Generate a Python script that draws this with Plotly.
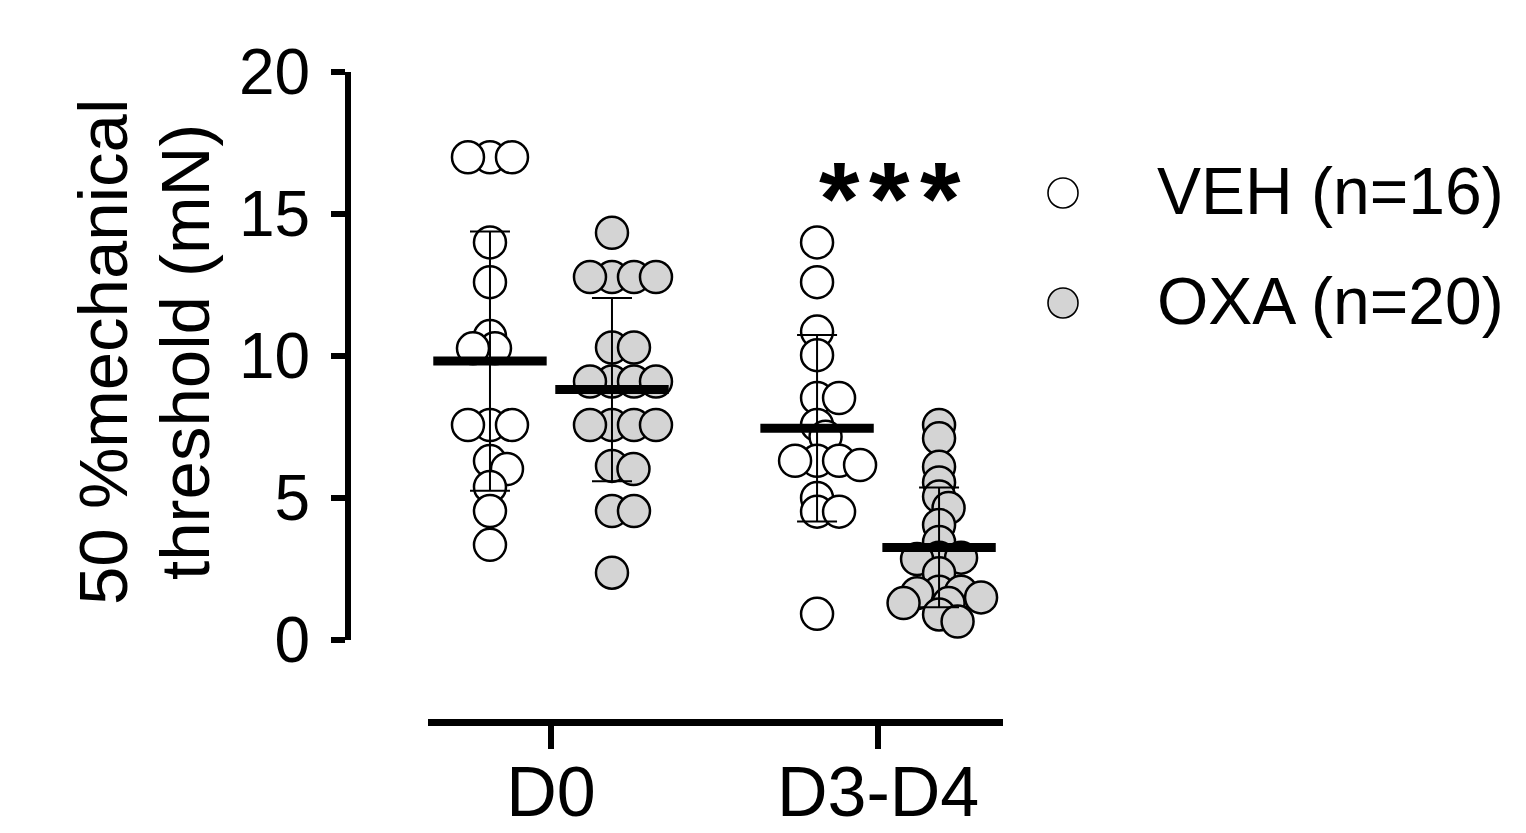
import numpy as np
import plotly.graph_objects as go

# ---------------- data ----------------
timepoints = ["D0", "D3-D4"]
group_names = ["VEH (n=16)", "OXA (n=20)"]

veh_d0 = [17.0, 17.0, 17.0, 14.0, 12.6, 10.7, 10.27, 10.27, 7.57, 7.57, 7.57,
          6.3, 6.02, 5.39, 4.54, 3.35]
oxa_d0 = [14.34, 12.78, 12.78, 12.78, 12.78, 10.3, 10.3, 9.1, 9.1, 9.1, 9.1,
          7.57, 7.57, 7.57, 7.57, 6.13, 6.02, 4.54, 4.54, 2.37]
veh_d34 = [14.0, 12.6, 10.86, 10.03, 8.52, 8.52, 7.57, 7.16, 6.31, 6.31, 6.31,
           6.16, 5.0, 4.52, 4.52, 0.92]
oxa_d34 = [7.57, 7.1, 6.1, 5.55, 5.05, 4.65, 4.05, 3.45, 2.9, 2.9, 2.85, 2.35,
           1.7, 1.7, 1.65, 1.5, 1.3, 1.3, 0.9, 0.65]

y_ticks = [0, 5, 10, 15, 20]
significance = ["*", "*", "*"]

# ---------------- layout constants (page pixels) ----------------
W, H = 1526, 833
OFF = 8                                       # default body margin of the page
PL, PR, PT, PB = 348, 1003, 72, 722          # plot area in page px
X_AXIS_LEFT = 428                             # x-axis line starts here
Y_ZERO_PX = 640                               # pixel row of y = 0
X_RANGE = [-0.376, 1.382]
Y_RANGE = [0, 20]
FONT = "Liberation Sans, Arial, sans-serif"

x_dom = [(X_AXIS_LEFT - PL) / (PR - PL), 1.0]
y_dom = [(PB - Y_ZERO_PX) / (PB - PT), 1.0]
XPX = (PR - X_AXIS_LEFT) / (X_RANGE[1] - X_RANGE[0])   # px per x unit
YPX = (Y_ZERO_PX - PT) / (Y_RANGE[1] - Y_RANGE[0])      # px per y unit

GROUP_SHIFT = 61 / XPX        # VEH left, OXA right of each timepoint
MARKER = 32


def paper_x(px):
    return (px - PL) / (PR - PL)


def paper_y(py):
    return (PB - py) / (PB - PT)


def swarm(vals, dx_px=22.0, dy_px=12.5):
    """Greedy beeswarm: horizontal pixel offsets so markers do not pile up."""
    vals = np.asarray(vals, dtype=float)
    order = np.argsort(-vals, kind="stable")
    placed = []
    offs = np.zeros(len(vals))
    for i in order:
        y = vals[i] * YPX
        found = None
        k = 0
        while found is None:
            cands = [0.0] if k == 0 else [k * 0.5, -k * 0.5]
            for c in cands:
                if all(((c - xo) / dx_px) ** 2 + ((y - yo) / dy_px) ** 2 >= 1
                       for xo, yo in placed):
                    found = c
                    break
            k += 1
        offs[i] = found
        placed.append((found, y))
    return offs


series = [
    (0, -1, veh_d0, "white"),
    (0, +1, oxa_d0, "#d4d4d4"),
    (1, -1, veh_d34, "white"),
    (1, +1, oxa_d34, "#d4d4d4"),
]

fig = go.Figure()

# points
for tp, side, vals, fill in series:
    offs = swarm(vals)
    xs = tp + side * GROUP_SHIFT + offs / XPX
    fig.add_trace(go.Scatter(
        x=xs, y=vals, mode="markers", showlegend=False, cliponaxis=False,
        marker=dict(size=MARKER, color=fill, line=dict(color="black", width=2.5)),
        hoverinfo="y",
    ))

# mean +/- SD
for tp, side, vals, fill in series:
    v = np.asarray(vals)
    fig.add_trace(go.Scatter(
        x=[tp + side * GROUP_SHIFT], y=[v.mean()], mode="markers",
        showlegend=False, cliponaxis=False,
        marker=dict(symbol="line-ew", size=81, color="black",
                    line=dict(color="black", width=9)),
        error_y=dict(type="data", array=[v.std(ddof=1)], symmetric=True,
                     color="black", thickness=2, width=20),
        hoverinfo="y",
    ))

annotations = []
shapes = []

# significance stars (one annotation per star for exact spacing)
for j, s in enumerate(significance):
    annotations.append(dict(
        x=paper_x(839 + 50.5 * j), y=paper_y(199), xref="paper", yref="paper",
        text=f"<b>{s}</b>", showarrow=False, xanchor="center", yanchor="middle",
        font=dict(family=FONT, size=104, color="black"),
    ))

# custom legend
legend_rows = [(group_names[0], "white", 193), (group_names[1], "#d4d4d4", 303)]
for name, fill, py in legend_rows:
    shapes.append(dict(
        type="circle", xref="paper", yref="paper",
        xsizemode="pixel", ysizemode="pixel",
        xanchor=paper_x(1063), yanchor=paper_y(py),
        x0=-15, x1=15, y0=-15, y1=15,
        fillcolor=fill, line=dict(color="black", width=1.6),
    ))
    annotations.append(dict(
        x=paper_x(1155), y=paper_y(py - 2), xref="paper", yref="paper",
        text=name, showarrow=False, xanchor="left", yanchor="middle",
        font=dict(family=FONT, size=66, color="black"),
    ))

# y axis title: two lines, each its own annotation (tight line spacing)
for text, px in [("50 %mechanical", 103), ("threshold (mN)", 185)]:
    annotations.append(dict(
        x=paper_x(px), y=paper_y(352), xref="paper", yref="paper",
        text=text, textangle=-90,
        showarrow=False, xanchor="center", yanchor="middle",
        font=dict(family=FONT, size=69, color="black"),
    ))

fig.update_layout(
    width=W, height=H,
    margin=dict(l=PL - OFF, r=W - (PR - OFF), t=PT - OFF, b=H - (PB - OFF),
                pad=0, autoexpand=False),
    paper_bgcolor="white", plot_bgcolor="white",
    font=dict(family=FONT, color="black"),
    showlegend=False,
    xaxis=dict(
        domain=x_dom, range=X_RANGE, anchor="free", position=0,
        automargin=False,
        tickmode="array", tickvals=[0, 1], ticktext=timepoints,
        showline=True, linecolor="black", linewidth=7,
        ticks="outside", ticklen=23, tickwidth=6, tickcolor="black",
        tickfont=dict(family=FONT, size=70, color="black"),
        ticklabelstandoff=-17,
        showgrid=False, zeroline=False,
    ),
    yaxis=dict(
        domain=y_dom, range=Y_RANGE, anchor="free", position=0,
        automargin=False,
        tickmode="array", tickvals=y_ticks,
        showline=True, linecolor="black", linewidth=6,
        ticks="outside", ticklen=14, tickwidth=6, tickcolor="black",
        tickfont=dict(family=FONT, size=64, color="black"),
        ticklabelstandoff=8,
        showgrid=False, zeroline=False,
    ),
    annotations=annotations,
    shapes=shapes,
)

fig.write_html("out.html")
